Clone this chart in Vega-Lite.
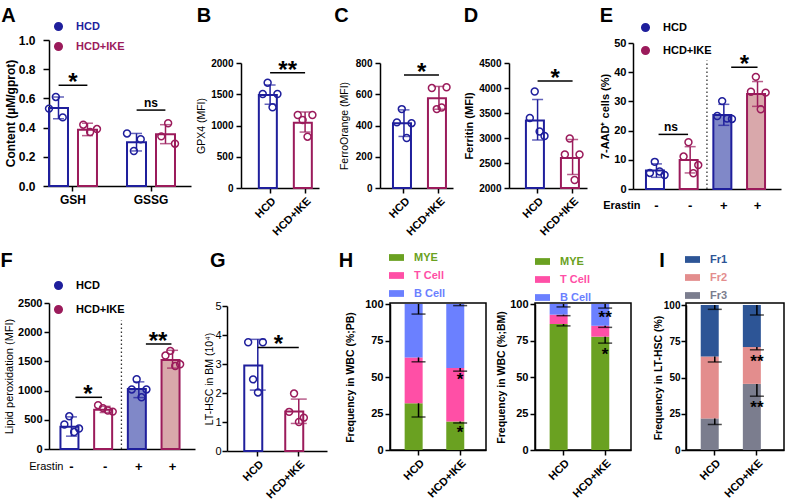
{
"$schema":"https://vega.github.io/schema/vega-lite/v6.json",
"padding":{"left":0,"top":6,"right":0,"bottom":0},
"background":"white",
"datasets":{
"A_bar":[{"met":"GSH","grp":"HCD","mean":0.535,"lo":0.46,"hi":0.61},{"met":"GSH","grp":"HCD+IKE","mean":0.385,"lo":0.345,"hi":0.43},{"met":"GSSG","grp":"HCD","mean":0.30,"lo":0.24,"hi":0.36},{"met":"GSSG","grp":"HCD+IKE","mean":0.355,"lo":0.29,"hi":0.42}],
"A_pts":[{"met":"GSH","slot":"HCD|1","grp":"HCD","v":0.53},{"met":"GSH","slot":"HCD|2","grp":"HCD","v":0.61},{"met":"GSH","slot":"HCD|3","grp":"HCD","v":0.47},{"met":"GSH","slot":"HCD+IKE|1","grp":"HCD+IKE","v":0.42},{"met":"GSH","slot":"HCD+IKE|2","grp":"HCD+IKE","v":0.37},{"met":"GSH","slot":"HCD+IKE|3","grp":"HCD+IKE","v":0.39},{"met":"GSSG","slot":"HCD|1","grp":"HCD","v":0.36},{"met":"GSSG","slot":"HCD|2","grp":"HCD","v":0.24},{"met":"GSSG","slot":"HCD|3","grp":"HCD","v":0.32},{"met":"GSSG","slot":"HCD+IKE|1","grp":"HCD+IKE","v":0.34},{"met":"GSSG","slot":"HCD+IKE|2","grp":"HCD+IKE","v":0.43},{"met":"GSSG","slot":"HCD+IKE|3","grp":"HCD+IKE","v":0.29}],
"A_sig":[{"met":"GSH","y":0.69,"lab":"*"},{"met":"GSSG","y":0.52,"lab":"ns"}],
"B_bar":[{"g":"HCD","mean":1488,"lo":1339,"hi":1648},{"g":"HCD+IKE","mean":1045,"lo":895,"hi":1216}],
"B_pts":[{"g":"HCD","rep":1,"v":1504},{"g":"HCD","rep":2,"v":1685},{"g":"HCD","rep":3,"v":1291},{"g":"HCD","rep":4,"v":1504},{"g":"HCD+IKE","rep":1,"v":1168},{"g":"HCD+IKE","rep":2,"v":1088},{"g":"HCD+IKE","rep":3,"v":821},{"g":"HCD+IKE","rep":4,"v":1168}],
"B_sig":[{"g":"HCD","g2":"HCD+IKE","y":1845,"lab":"**"}],
"C_bar":[{"g":"HCD","mean":414,"lo":330,"hi":500},{"g":"HCD+IKE","mean":574,"lo":504,"hi":650}],
"C_pts":[{"g":"HCD","rep":1,"v":420},{"g":"HCD","rep":2,"v":505},{"g":"HCD","rep":3,"v":320},{"g":"HCD","rep":4,"v":415},{"g":"HCD+IKE","rep":1,"v":640},{"g":"HCD+IKE","rep":2,"v":505},{"g":"HCD+IKE","rep":3,"v":515},{"g":"HCD+IKE","rep":4,"v":645}],
"C_sig":[{"g":"HCD","g2":"HCD+IKE","y":723,"lab":"*"}],
"D_bar":[{"g":"HCD","mean":3350,"lo":2960,"hi":3770},{"g":"HCD+IKE","mean":2600,"lo":2270,"hi":2970}],
"D_pts":[{"g":"HCD","rep":1,"v":3400},{"g":"HCD","rep":2,"v":3930},{"g":"HCD","rep":3,"v":3130},{"g":"HCD","rep":4,"v":3040},{"g":"HCD+IKE","rep":1,"v":2670},{"g":"HCD+IKE","rep":2,"v":2990},{"g":"HCD+IKE","rep":3,"v":2160},{"g":"HCD+IKE","rep":4,"v":2670}],
"D_sig":[{"g":"HCD","g2":"HCD+IKE","y":4140,"lab":"*"}],
"E_bar":[{"c":"HCD -","g":"HCD","e":"-","mean":6.3,"lo":4.0,"hi":8.6},{"c":"HCD+IKE -","g":"HCD+IKE","e":"-","mean":9.9,"lo":5.5,"hi":14.5},{"c":"HCD +","g":"HCD","e":"+","mean":25.3,"lo":21.8,"hi":29.0},{"c":"HCD+IKE +","g":"HCD+IKE","e":"+","mean":32.5,"lo":28.3,"hi":36.8}],
"E_pts":[{"c":"HCD -","g":"HCD","rep":1,"v":5.5},{"c":"HCD -","g":"HCD","rep":2,"v":9.3},{"c":"HCD -","g":"HCD","rep":3,"v":6.0},{"c":"HCD -","g":"HCD","rep":4,"v":4.8},{"c":"HCD+IKE -","g":"HCD+IKE","rep":1,"v":11.1},{"c":"HCD+IKE -","g":"HCD+IKE","rep":2,"v":16.0},{"c":"HCD+IKE -","g":"HCD+IKE","rep":3,"v":5.4},{"c":"HCD+IKE -","g":"HCD+IKE","rep":4,"v":8.2},{"c":"HCD +","g":"HCD","rep":1,"v":25.0},{"c":"HCD +","g":"HCD","rep":2,"v":30.1},{"c":"HCD +","g":"HCD","rep":3,"v":24.1},{"c":"HCD +","g":"HCD","rep":4,"v":24.0},{"c":"HCD+IKE +","g":"HCD+IKE","rep":1,"v":33.3},{"c":"HCD+IKE +","g":"HCD+IKE","rep":2,"v":38.4},{"c":"HCD+IKE +","g":"HCD+IKE","rep":3,"v":27.3},{"c":"HCD+IKE +","g":"HCD+IKE","rep":4,"v":33.0}],
"F_bar":[{"c":"HCD -","g":"HCD","e":"-","mean":380,"lo":220,"hi":550},{"c":"HCD+IKE -","g":"HCD+IKE","e":"-","mean":672,"lo":625,"hi":730},{"c":"HCD +","g":"HCD","e":"+","mean":1027,"lo":880,"hi":1150},{"c":"HCD+IKE +","g":"HCD+IKE","e":"+","mean":1525,"lo":1385,"hi":1690}],
"F_pts":[{"c":"HCD -","g":"HCD","rep":1,"v":420},{"c":"HCD -","g":"HCD","rep":2,"v":560},{"c":"HCD -","g":"HCD","rep":3,"v":290},{"c":"HCD -","g":"HCD","rep":4,"v":350},{"c":"HCD+IKE -","g":"HCD+IKE","rep":1,"v":750},{"c":"HCD+IKE -","g":"HCD+IKE","rep":2,"v":700},{"c":"HCD+IKE -","g":"HCD+IKE","rep":3,"v":660},{"c":"HCD+IKE -","g":"HCD+IKE","rep":4,"v":640},{"c":"HCD +","g":"HCD","rep":1,"v":1020},{"c":"HCD +","g":"HCD","rep":2,"v":1195},{"c":"HCD +","g":"HCD","rep":3,"v":885},{"c":"HCD +","g":"HCD","rep":4,"v":1020},{"c":"HCD+IKE +","g":"HCD+IKE","rep":1,"v":1600},{"c":"HCD+IKE +","g":"HCD+IKE","rep":2,"v":1680},{"c":"HCD+IKE +","g":"HCD+IKE","rep":3,"v":1420},{"c":"HCD+IKE +","g":"HCD+IKE","rep":4,"v":1450}],
"G_bar":[{"g":"HCD","mean":2.95,"lo":2.1,"hi":3.85},{"g":"HCD+IKE","mean":1.36,"lo":0.95,"hi":1.79}],
"G_pts":[{"g":"HCD","rep":1,"v":3.75},{"g":"HCD","rep":2,"v":2.47},{"g":"HCD","rep":3,"v":2.02},{"g":"HCD","rep":4,"v":3.75},{"g":"HCD+IKE","rep":1,"v":1.35},{"g":"HCD+IKE","rep":2,"v":1.98},{"g":"HCD+IKE","rep":3,"v":1.0},{"g":"HCD+IKE","rep":4,"v":1.15}],
"G_sig":[{"g":"HCD","g2":"HCD+IKE","y":3.57,"lab":"*"}],
"H1":[{"g":"HCD","cell":"MYE","ord":1,"val":32},{"g":"HCD","cell":"T Cell","ord":2,"val":31.4},{"g":"HCD","cell":"B Cell","ord":3,"val":36.6},{"g":"HCD+IKE","cell":"MYE","ord":1,"val":19.5},{"g":"HCD+IKE","cell":"T Cell","ord":2,"val":36.6},{"g":"HCD+IKE","cell":"B Cell","ord":3,"val":43.9}],
"H1_err":[{"g":"HCD","top":32,"cap":22.6},{"g":"HCD","top":63.4,"cap":60.4},{"g":"HCD","top":100,"cap":93.1},{"g":"HCD+IKE","top":19.5,"cap":18.5},{"g":"HCD+IKE","top":56.1,"cap":54.0},{"g":"HCD+IKE","top":100,"cap":98.9}],
"H1_star":[{"g":"HCD+IKE","y":50.8,"lab":"*"},{"g":"HCD+IKE","y":14.2,"lab":"*"}],
"H2":[{"g":"HCD","cell":"MYE","ord":1,"val":86.3},{"g":"HCD","cell":"T Cell","ord":2,"val":6.4},{"g":"HCD","cell":"B Cell","ord":3,"val":7.3},{"g":"HCD+IKE","cell":"MYE","ord":1,"val":77.6},{"g":"HCD+IKE","cell":"T Cell","ord":2,"val":7.5},{"g":"HCD+IKE","cell":"B Cell","ord":3,"val":14.9}],
"H2_err":[{"g":"HCD","top":86.3,"cap":85.0},{"g":"HCD","top":92.7,"cap":92.0},{"g":"HCD","top":100,"cap":98.0},{"g":"HCD+IKE","top":77.6,"cap":73.2},{"g":"HCD+IKE","top":85.1,"cap":84.0},{"g":"HCD+IKE","top":100,"cap":97.2}],
"H2_star":[{"g":"HCD+IKE","y":93.0,"lab":"**"},{"g":"HCD+IKE","y":67.5,"lab":"*"}],
"I1":[{"g":"HCD","fr":"Fr3","ord":1,"val":21.8},{"g":"HCD","fr":"Fr2","ord":2,"val":42.7},{"g":"HCD","fr":"Fr1","ord":3,"val":35.5},{"g":"HCD+IKE","fr":"Fr3","ord":1,"val":45.6},{"g":"HCD+IKE","fr":"Fr2","ord":2,"val":25.4},{"g":"HCD+IKE","fr":"Fr1","ord":3,"val":29.0}],
"I_err":[{"g":"HCD","top":21.8,"cap":17.6},{"g":"HCD","top":64.5,"cap":60.7},{"g":"HCD","top":100,"cap":97.0},{"g":"HCD+IKE","top":45.6,"cap":37.1},{"g":"HCD+IKE","top":71.0,"cap":69.1},{"g":"HCD+IKE","top":100,"cap":93.1}],
"I_star":[{"g":"HCD+IKE","y":63.6,"lab":"**"},{"g":"HCD+IKE","y":32.0,"lab":"**"}]
},
"vconcat":[
{"hconcat":[
 {"title":{"text":"A","offset":-5,"dx":-3},"width":142,"height":146,
  "layer":[
   {"data":{"name":"A_bar"},"mark":{"type":"bar","filled":false,"strokeWidth":2},
    "encoding":{
     "x":{"field":"met","type":"nominal","sort":["GSH","GSSG"],"scale":{"paddingInner":0.385,"paddingOuter":0.1026,"align":0},"axis":{"title":null,"labelAngle":0,"labelFontSize":12,"labelPadding":3,"tickSize":5}},
     "xOffset":{"field":"grp","type":"nominal","sort":["HCD","HCD+IKE"],"scale":{"paddingInner":0.345,"paddingOuter":0}},
     "y":{"field":"mean","type":"quantitative","scale":{"domain":[0,1],"nice":false},"axis":{"title":"Content (µM/gprot)","values":[0,0.2,0.4,0.6,0.8,1],"tickCount":20,"format":".1f","labelOverlap":false,"labelFontSize":12,"titleFontSize":12,"tickSize":6,"labelPadding":8,"titlePadding":1}},
     "color":{"field":"grp","type":"nominal","scale":{"domain":["HCD","HCD+IKE"],"range":["#1f1f9c","#9b1b5b"]},
      "legend":{"orient":"none","legendX":4,"legendY":-19,"title":null,"symbolType":"circle","symbolSize":50,"symbolStrokeWidth":2,"labelFontSize":11,"labelFontWeight":"bold","labelOffset":12,"rowPadding":3,"padding":0,"labelColor":{"expr":"datum.value === 'HCD' ? '#1f1f9c' : '#9b1b5b'"}}}}},
   {"data":{"name":"A_bar"},"mark":{"type":"rule","strokeWidth":1.5},
    "encoding":{"x":{"field":"met","type":"nominal","sort":["GSH","GSSG"]},"xOffset":{"field":"grp","type":"nominal","sort":["HCD","HCD+IKE"],"scale":{"paddingInner":0.345,"paddingOuter":0}},"y":{"field":"lo","type":"quantitative"},"y2":{"field":"hi"},"color":{"field":"grp","type":"nominal"}}},
   {"data":{"name":"A_bar"},"mark":{"type":"tick","size":11,"thickness":1.5},
    "encoding":{"x":{"field":"met","type":"nominal","sort":["GSH","GSSG"]},"xOffset":{"field":"grp","type":"nominal","sort":["HCD","HCD+IKE"],"scale":{"paddingInner":0.345,"paddingOuter":0}},"y":{"field":"lo","type":"quantitative"},"color":{"field":"grp","type":"nominal"}}},
   {"data":{"name":"A_bar"},"mark":{"type":"tick","size":11,"thickness":1.5},
    "encoding":{"x":{"field":"met","type":"nominal","sort":["GSH","GSSG"]},"xOffset":{"field":"grp","type":"nominal","sort":["HCD","HCD+IKE"],"scale":{"paddingInner":0.345,"paddingOuter":0}},"y":{"field":"hi","type":"quantitative"},"color":{"field":"grp","type":"nominal"}}},
   {"data":{"name":"A_pts"},"mark":{"type":"point","filled":false,"size":48,"strokeWidth":1.5,"opacity":1},
    "encoding":{"x":{"field":"met","type":"nominal","sort":["GSH","GSSG"]},"xOffset":{"field":"slot","type":"nominal","scale":{"domain":["HCD|1","HCD|2","HCD|3","d1","d2","HCD+IKE|1","HCD+IKE|2","HCD+IKE|3"],"paddingInner":0,"paddingOuter":0}},"y":{"field":"v","type":"quantitative"},"color":{"field":"grp","type":"nominal"}}},
   {"data":{"name":"A_sig"},"mark":{"type":"rule","strokeWidth":1.5,"color":"black"},
    "encoding":{"x":{"field":"met","type":"nominal","sort":["GSH","GSSG"],"bandPosition":0.2},"x2":{"field":"met","bandPosition":0.8},"y":{"field":"y","type":"quantitative"}}},
   {"data":{"name":"A_sig"},"transform":[{"filter":"datum.lab !== 'ns'"}],"mark":{"type":"text","fontSize":24,"fontWeight":"bold","baseline":"alphabetic","dy":5,"color":"black"},
    "encoding":{"x":{"field":"met","type":"nominal","sort":["GSH","GSSG"]},"y":{"field":"y","type":"quantitative"},"text":{"field":"lab"}}},
   {"data":{"name":"A_sig"},"transform":[{"filter":"datum.lab === 'ns'"}],"mark":{"type":"text","fontSize":12,"fontWeight":"bold","baseline":"alphabetic","dy":-3,"color":"black"},
    "encoding":{"x":{"field":"met","type":"nominal","sort":["GSH","GSSG"]},"y":{"field":"y","type":"quantitative"},"text":{"field":"lab"}}}
  ],
  "resolve":{"scale":{"xOffset":"independent"}}},
 {"hconcat":[
  {"title":{"text":"B","offset":14},"width":78,"height":148,
   "layer":[
    {"data":{"name":"B_bar"},"mark":{"type":"bar","filled":false,"strokeWidth":2},
     "encoding":{
      "x":{"field":"g","type":"nominal","sort":["HCD","HCD+IKE"],"scale":{"paddingInner":0.357,"paddingOuter":0.293,"align":0.87},"axis":{"title":null,"labelAngle":-45,"labelAlign":"right","labelBaseline":"top","labelFontSize":11,"labelPadding":2,"tickSize":5}},
      "y":{"field":"mean","type":"quantitative","scale":{"domain":[0,2000],"nice":false,"range":[148,23]},"axis":{"title":"GPX4 (MFI)","values":[0,500,1000,1500,2000],"tickCount":20,"format":"d","labelOverlap":false,"labelFontSize":10,"titleFontSize":10.5,"titleFontWeight":"normal","titlePadding":4,"labelPadding":3}},
      "color":{"field":"g","type":"nominal","scale":{"domain":["HCD","HCD+IKE"],"range":["#1f1f9c","#9b1b5b"]},"legend":null}}},
    {"data":{"name":"B_bar"},"mark":{"type":"rule","strokeWidth":1.5},"encoding":{"x":{"field":"g","type":"nominal"},"y":{"field":"lo","type":"quantitative"},"y2":{"field":"hi"},"color":{"field":"g","type":"nominal"}}},
    {"data":{"name":"B_bar"},"mark":{"type":"tick","size":11,"thickness":1.5},"encoding":{"x":{"field":"g","type":"nominal"},"y":{"field":"lo","type":"quantitative"},"color":{"field":"g","type":"nominal"}}},
    {"data":{"name":"B_bar"},"mark":{"type":"tick","size":11,"thickness":1.5},"encoding":{"x":{"field":"g","type":"nominal"},"y":{"field":"hi","type":"quantitative"},"color":{"field":"g","type":"nominal"}}},
    {"data":{"name":"B_pts"},"mark":{"type":"point","filled":false,"size":48,"strokeWidth":1.5,"opacity":1},"encoding":{"x":{"field":"g","type":"nominal"},"xOffset":{"field":"rep","type":"nominal","scale":{"paddingInner":0,"paddingOuter":0.8}},"y":{"field":"v","type":"quantitative"},"color":{"field":"g","type":"nominal"}}},
    {"data":{"name":"B_sig"},"mark":{"type":"rule","strokeWidth":1.5,"color":"black"},"encoding":{"x":{"field":"g","type":"nominal"},"x2":{"field":"g2"},"y":{"field":"y","type":"quantitative"}}},
    {"data":{"name":"B_sig"},"mark":{"type":"text","fontSize":24,"fontWeight":"bold","baseline":"alphabetic","dy":5,"color":"black"},"encoding":{"x":{"field":"g","type":"nominal","bandPosition":1.28},"y":{"field":"y","type":"quantitative"},"text":{"field":"lab"}}}
   ]},
  {"hconcat":[
   {"title":{"text":"C","offset":14,"dx":-5},"width":73,"height":148,
    "layer":[
     {"data":{"name":"C_bar"},"mark":{"type":"bar","filled":false,"strokeWidth":2},
      "encoding":{
       "x":{"field":"g","type":"nominal","sort":["HCD","HCD+IKE"],"scale":{"paddingInner":0.371,"paddingOuter":0.229,"align":0.81},"axis":{"title":null,"labelAngle":-45,"labelAlign":"right","labelBaseline":"top","labelFontSize":11,"labelPadding":2,"tickSize":5}},
       "y":{"field":"mean","type":"quantitative","scale":{"domain":[0,800],"nice":false,"range":[148,23]},"axis":{"title":"FerroOrange (MFI)","values":[0,200,400,600,800],"tickCount":20,"format":"d","labelOverlap":false,"labelFontSize":10,"titleFontSize":10.5,"titleFontWeight":"normal","titlePadding":6,"labelPadding":3}},
       "color":{"field":"g","type":"nominal","scale":{"domain":["HCD","HCD+IKE"],"range":["#1f1f9c","#9b1b5b"]},"legend":null}}},
     {"data":{"name":"C_bar"},"mark":{"type":"rule","strokeWidth":1.5},"encoding":{"x":{"field":"g","type":"nominal"},"y":{"field":"lo","type":"quantitative"},"y2":{"field":"hi"},"color":{"field":"g","type":"nominal"}}},
     {"data":{"name":"C_bar"},"mark":{"type":"tick","size":11,"thickness":1.5},"encoding":{"x":{"field":"g","type":"nominal"},"y":{"field":"lo","type":"quantitative"},"color":{"field":"g","type":"nominal"}}},
     {"data":{"name":"C_bar"},"mark":{"type":"tick","size":11,"thickness":1.5},"encoding":{"x":{"field":"g","type":"nominal"},"y":{"field":"hi","type":"quantitative"},"color":{"field":"g","type":"nominal"}}},
     {"data":{"name":"C_pts"},"mark":{"type":"point","filled":false,"size":48,"strokeWidth":1.5,"opacity":1},"encoding":{"x":{"field":"g","type":"nominal"},"xOffset":{"field":"rep","type":"nominal","scale":{"paddingInner":0,"paddingOuter":0.8}},"y":{"field":"v","type":"quantitative"},"color":{"field":"g","type":"nominal"}}},
     {"data":{"name":"C_sig"},"mark":{"type":"rule","strokeWidth":1.5,"color":"black"},"encoding":{"x":{"field":"g","type":"nominal"},"x2":{"field":"g2"},"y":{"field":"y","type":"quantitative"}}},
     {"data":{"name":"C_sig"},"mark":{"type":"text","fontSize":24,"fontWeight":"bold","baseline":"alphabetic","dy":5,"color":"black"},"encoding":{"x":{"field":"g","type":"nominal","bandPosition":1.3},"y":{"field":"y","type":"quantitative"},"text":{"field":"lab"}}}
    ]},
   {"hconcat":[
    {"title":{"text":"D","offset":14},"width":78,"height":148,
     "layer":[
      {"data":{"name":"D_bar"},"mark":{"type":"bar","filled":false,"strokeWidth":2},
       "encoding":{
        "x":{"field":"g","type":"nominal","sort":["HCD","HCD+IKE"],"scale":{"paddingInner":0.334,"paddingOuter":0.281,"align":0.86},"axis":{"title":null,"labelAngle":-45,"labelAlign":"right","labelBaseline":"top","labelFontSize":11,"labelPadding":2,"tickSize":5}},
        "y":{"field":"mean","type":"quantitative","scale":{"domain":[2000,4500],"nice":false,"zero":false,"range":[148,23]},"axis":{"title":"Ferritin (MFI)","values":[2000,2500,3000,3500,4000,4500],"tickCount":20,"format":"d","labelOverlap":false,"labelFontSize":10,"titleFontSize":11,"titlePadding":4,"labelPadding":3}},
        "y2":{"datum":2000},
        "color":{"field":"g","type":"nominal","scale":{"domain":["HCD","HCD+IKE"],"range":["#1f1f9c","#9b1b5b"]},"legend":null}}},
      {"data":{"name":"D_bar"},"mark":{"type":"rule","strokeWidth":1.5},"encoding":{"x":{"field":"g","type":"nominal"},"y":{"field":"lo","type":"quantitative"},"y2":{"field":"hi"},"color":{"field":"g","type":"nominal"}}},
      {"data":{"name":"D_bar"},"mark":{"type":"tick","size":11,"thickness":1.5},"encoding":{"x":{"field":"g","type":"nominal"},"y":{"field":"lo","type":"quantitative"},"color":{"field":"g","type":"nominal"}}},
      {"data":{"name":"D_bar"},"mark":{"type":"tick","size":11,"thickness":1.5},"encoding":{"x":{"field":"g","type":"nominal"},"y":{"field":"hi","type":"quantitative"},"color":{"field":"g","type":"nominal"}}},
      {"data":{"name":"D_pts"},"mark":{"type":"point","filled":false,"size":48,"strokeWidth":1.5,"opacity":1},"encoding":{"x":{"field":"g","type":"nominal"},"xOffset":{"field":"rep","type":"nominal","scale":{"paddingInner":0,"paddingOuter":0.8}},"y":{"field":"v","type":"quantitative"},"color":{"field":"g","type":"nominal"}}},
      {"data":{"name":"D_sig"},"mark":{"type":"rule","strokeWidth":1.5,"color":"black"},"encoding":{"x":{"field":"g","type":"nominal"},"x2":{"field":"g2"},"y":{"field":"y","type":"quantitative"}}},
      {"data":{"name":"D_sig"},"mark":{"type":"text","fontSize":24,"fontWeight":"bold","baseline":"alphabetic","dy":5,"color":"black"},"encoding":{"x":{"field":"g","type":"nominal","bandPosition":1.25},"y":{"field":"y","type":"quantitative"},"text":{"field":"lab"}}}
     ]},
    {"title":{"text":"E","offset":-4},"width":148,"height":149,
     "layer":[
      {"data":{"name":"E_bar"},"transform":[{"filter":"datum.e === '+'"}],"mark":{"type":"bar"},
       "encoding":{
        "x":{"field":"c","type":"nominal","sort":["HCD -","HCD+IKE -","HCD +","HCD+IKE +"],"scale":{"domain":["HCD -","HCD+IKE -","HCD +","HCD+IKE +"],"paddingInner":0.377,"paddingOuter":0.385},"axis":{"title":"Erastin","titleAngle":0,"titleAlign":"right","titleBaseline":"middle","titleX":7,"titleY":16,"titleFontSize":11,"labelExpr":"slice(datum.label, -1)","labelAngle":0,"labelFontSize":13,"labelBaseline":"middle","labelPadding":16,"ticks":false,"tickSize":0}},
        "y":{"field":"mean","type":"quantitative","scale":{"domain":[0,50],"nice":false,"range":[149,3]},"axis":{"title":"7-AAD⁺ cells (%)","values":[0,10,20,30,40,50],"tickCount":20,"labelOverlap":false,"labelFontSize":11,"titleFontSize":11,"titlePadding":3,"labelPadding":2}},
        "fill":{"field":"c","type":"nominal","scale":{"domain":["HCD +","HCD+IKE +"],"range":["#8088c8","#d9a8ab"]},"legend":null}}},
      {"data":{"name":"E_bar"},"mark":{"type":"bar","filled":false,"strokeWidth":2},
       "encoding":{"x":{"field":"c","type":"nominal","sort":["HCD -","HCD+IKE -","HCD +","HCD+IKE +"]},"y":{"field":"mean","type":"quantitative"},
        "color":{"field":"g","type":"nominal","scale":{"domain":["HCD","HCD+IKE"],"range":["#1f1f9c","#9b1b5b"]},
         "legend":{"orient":"none","legendX":7,"legendY":-18,"title":null,"symbolType":"circle","symbolSize":50,"symbolStrokeWidth":2,"labelFontSize":11,"labelFontWeight":"bold","labelOffset":12,"rowPadding":6,"padding":0,"labelColor":"black"}}}},
      {"data":{"name":"E_bar"},"mark":{"type":"rule","strokeWidth":1.5},"encoding":{"x":{"field":"c","type":"nominal","sort":["HCD -","HCD+IKE -","HCD +","HCD+IKE +"]},"y":{"field":"lo","type":"quantitative"},"y2":{"field":"hi"},"color":{"field":"g","type":"nominal"}}},
      {"data":{"name":"E_bar"},"mark":{"type":"tick","size":11,"thickness":1.5},"encoding":{"x":{"field":"c","type":"nominal","sort":["HCD -","HCD+IKE -","HCD +","HCD+IKE +"]},"y":{"field":"lo","type":"quantitative"},"color":{"field":"g","type":"nominal"}}},
      {"data":{"name":"E_bar"},"mark":{"type":"tick","size":11,"thickness":1.5},"encoding":{"x":{"field":"c","type":"nominal","sort":["HCD -","HCD+IKE -","HCD +","HCD+IKE +"]},"y":{"field":"hi","type":"quantitative"},"color":{"field":"g","type":"nominal"}}},
      {"data":{"name":"E_pts"},"mark":{"type":"point","filled":false,"size":48,"strokeWidth":1.5,"opacity":1},"encoding":{"x":{"field":"c","type":"nominal","sort":["HCD -","HCD+IKE -","HCD +","HCD+IKE +"]},"xOffset":{"field":"rep","type":"nominal","scale":{"paddingInner":0,"paddingOuter":0.8}},"y":{"field":"v","type":"quantitative"},"color":{"field":"g","type":"nominal"}}},
      {"data":{"values":[{"c":"HCD+IKE -","y":0,"y2":44}]},"mark":{"type":"rule","strokeWidth":1.3,"strokeDash":[1.5,2.5],"color":"#333333"},"encoding":{"x":{"field":"c","type":"nominal","sort":["HCD -","HCD+IKE -","HCD +","HCD+IKE +"],"bandPosition":1.3},"y":{"field":"y","type":"quantitative"},"y2":{"field":"y2"}}},
      {"data":{"values":[{"c":"HCD -","c2":"HCD+IKE -","y":18.7}]},"mark":{"type":"rule","strokeWidth":1.5,"color":"black"},"encoding":{"x":{"field":"c","type":"nominal","sort":["HCD -","HCD+IKE -","HCD +","HCD+IKE +"],"bandPosition":0.6},"x2":{"field":"c2","bandPosition":0.4},"y":{"field":"y","type":"quantitative"}}},
      {"data":{"values":[{"c":"HCD -","y":18.7,"lab":"ns"}]},"mark":{"type":"text","fontSize":12,"fontWeight":"bold","baseline":"alphabetic","dy":-3,"color":"black"},"encoding":{"x":{"field":"c","type":"nominal","sort":["HCD -","HCD+IKE -","HCD +","HCD+IKE +"],"bandPosition":1.19},"y":{"field":"y","type":"quantitative"},"text":{"field":"lab"}}},
      {"data":{"values":[{"c":"HCD +","c2":"HCD+IKE +","y":41.7}]},"mark":{"type":"rule","strokeWidth":1.5,"color":"black"},"encoding":{"x":{"field":"c","type":"nominal","sort":["HCD -","HCD+IKE -","HCD +","HCD+IKE +"],"bandPosition":0.85},"x2":{"field":"c2","bandPosition":0.5},"y":{"field":"y","type":"quantitative"}}},
      {"data":{"values":[{"c":"HCD +","y":41.7,"lab":"*"}]},"mark":{"type":"text","fontSize":24,"fontWeight":"bold","baseline":"alphabetic","dy":5,"color":"black"},"encoding":{"x":{"field":"c","type":"nominal","sort":["HCD -","HCD+IKE -","HCD +","HCD+IKE +"],"bandPosition":1.48},"y":{"field":"y","type":"quantitative"},"text":{"field":"lab"}}}
     ]}
   ],"spacing":12,"resolve":{"scale":{"color":"independent","fill":"independent"},"legend":{"color":"independent"}}}
  ],"spacing":9,"resolve":{"scale":{"color":"independent","fill":"independent"},"legend":{"color":"independent"}}}
 ],"spacing":15,"resolve":{"scale":{"color":"independent","fill":"independent"},"legend":{"color":"independent"}}}
],"spacing":5,"resolve":{"scale":{"color":"independent","fill":"independent"},"legend":{"color":"independent"}}},
{"hconcat":[
 {"title":{"text":"F","offset":9,"dx":-3},"width":146,"height":146,
  "layer":[
   {"data":{"name":"F_bar"},"transform":[{"filter":"datum.e === '+'"}],"mark":{"type":"bar"},
    "encoding":{
     "x":{"field":"c","type":"nominal","sort":["HCD -","HCD+IKE -","HCD +","HCD+IKE +"],"scale":{"domain":["HCD -","HCD+IKE -","HCD +","HCD+IKE +"],"paddingInner":0.347,"paddingOuter":0.34},"axis":{"title":"Erastin","titleAngle":0,"titleAlign":"right","titleBaseline":"middle","titleX":14,"titleY":17,"titleFontSize":11,"titleFontWeight":"normal","labelExpr":"slice(datum.label, -1)","labelAngle":0,"labelFontSize":13,"labelBaseline":"middle","labelPadding":17,"ticks":false,"tickSize":0}},
     "y":{"field":"mean","type":"quantitative","scale":{"domain":[0,2500],"nice":false},"axis":{"title":"Lipid peroxidation (MFI)","values":[0,500,1000,1500,2000,2500],"tickCount":20,"format":"d","labelOverlap":false,"labelFontSize":11,"titleFontSize":11,"titleFontWeight":"normal","titlePadding":3,"labelPadding":2}},
     "fill":{"field":"c","type":"nominal","scale":{"domain":["HCD +","HCD+IKE +"],"range":["#8088c8","#d9a8ab"]},"legend":null}}},
   {"data":{"name":"F_bar"},"mark":{"type":"bar","filled":false,"strokeWidth":2},
    "encoding":{"x":{"field":"c","type":"nominal","sort":["HCD -","HCD+IKE -","HCD +","HCD+IKE +"]},"y":{"field":"mean","type":"quantitative"},
     "color":{"field":"g","type":"nominal","scale":{"domain":["HCD","HCD+IKE"],"range":["#1f1f9c","#9b1b5b"]},
      "legend":{"orient":"none","legendX":4,"legendY":-23,"title":null,"symbolType":"circle","symbolSize":50,"symbolStrokeWidth":2,"labelFontSize":11,"labelFontWeight":"bold","labelOffset":12,"rowPadding":7,"padding":0,"labelColor":"black"}}}},
   {"data":{"name":"F_bar"},"mark":{"type":"rule","strokeWidth":1.5},"encoding":{"x":{"field":"c","type":"nominal","sort":["HCD -","HCD+IKE -","HCD +","HCD+IKE +"]},"y":{"field":"lo","type":"quantitative"},"y2":{"field":"hi"},"color":{"field":"g","type":"nominal"}}},
   {"data":{"name":"F_bar"},"mark":{"type":"tick","size":11,"thickness":1.5},"encoding":{"x":{"field":"c","type":"nominal","sort":["HCD -","HCD+IKE -","HCD +","HCD+IKE +"]},"y":{"field":"lo","type":"quantitative"},"color":{"field":"g","type":"nominal"}}},
   {"data":{"name":"F_bar"},"mark":{"type":"tick","size":11,"thickness":1.5},"encoding":{"x":{"field":"c","type":"nominal","sort":["HCD -","HCD+IKE -","HCD +","HCD+IKE +"]},"y":{"field":"hi","type":"quantitative"},"color":{"field":"g","type":"nominal"}}},
   {"data":{"name":"F_pts"},"mark":{"type":"point","filled":false,"size":48,"strokeWidth":1.5,"opacity":1},"encoding":{"x":{"field":"c","type":"nominal","sort":["HCD -","HCD+IKE -","HCD +","HCD+IKE +"]},"xOffset":{"field":"rep","type":"nominal","scale":{"paddingInner":0,"paddingOuter":0.8}},"y":{"field":"v","type":"quantitative"},"color":{"field":"g","type":"nominal"}}},
   {"data":{"values":[{"c":"HCD+IKE -","y":0,"y2":2200}]},"mark":{"type":"rule","strokeWidth":1.3,"strokeDash":[1.5,2.5],"color":"#333333"},"encoding":{"x":{"field":"c","type":"nominal","sort":["HCD -","HCD+IKE -","HCD +","HCD+IKE +"],"bandPosition":1.24},"y":{"field":"y","type":"quantitative"},"y2":{"field":"y2"}}},
   {"data":{"values":[{"c":"HCD -","c2":"HCD+IKE -","y":885}]},"mark":{"type":"rule","strokeWidth":1.5,"color":"black"},"encoding":{"x":{"field":"c","type":"nominal","sort":["HCD -","HCD+IKE -","HCD +","HCD+IKE +"],"bandPosition":0.68},"x2":{"field":"c2","bandPosition":0.36},"y":{"field":"y","type":"quantitative"}}},
   {"data":{"values":[{"c":"HCD -","y":885,"lab":"*"}]},"mark":{"type":"text","fontSize":24,"fontWeight":"bold","baseline":"alphabetic","dy":5,"color":"black"},"encoding":{"x":{"field":"c","type":"nominal","sort":["HCD -","HCD+IKE -","HCD +","HCD+IKE +"],"bandPosition":1.25},"y":{"field":"y","type":"quantitative"},"text":{"field":"lab"}}},
   {"data":{"values":[{"c":"HCD +","c2":"HCD+IKE +","y":1798}]},"mark":{"type":"rule","strokeWidth":1.5,"color":"black"},"encoding":{"x":{"field":"c","type":"nominal","sort":["HCD -","HCD+IKE -","HCD +","HCD+IKE +"],"bandPosition":0.82},"x2":{"field":"c2","bandPosition":0.45},"y":{"field":"y","type":"quantitative"}}},
   {"data":{"values":[{"c":"HCD +","y":1798,"lab":"**"}]},"mark":{"type":"text","fontSize":24,"fontWeight":"bold","baseline":"alphabetic","dy":5,"color":"black"},"encoding":{"x":{"field":"c","type":"nominal","sort":["HCD -","HCD+IKE -","HCD +","HCD+IKE +"],"bandPosition":1.37},"y":{"field":"y","type":"quantitative"},"text":{"field":"lab"}}}
  ]},
 {"hconcat":[
  {"title":{"text":"G","offset":29,"dx":5},"width":100,"height":148,
   "layer":[
    {"data":{"name":"G_bar"},"mark":{"type":"bar","filled":false,"strokeWidth":2},
     "encoding":{
      "x":{"field":"g","type":"nominal","sort":["HCD","HCD+IKE"],"scale":{"paddingInner":0.34,"paddingOuter":0.39,"align":0.54},"axis":{"title":null,"labelAngle":-45,"labelAlign":"right","labelBaseline":"top","labelFontSize":11,"labelPadding":2,"tickSize":5}},
      "y":{"field":"mean","type":"quantitative","scale":{"domain":[0,5],"nice":false,"range":[148,3]},"axis":{"title":"LT-HSC in BM (10⁴)","values":[0,1,2,3,4,5],"tickCount":20,"format":"d","labelOverlap":false,"labelFontSize":11,"labelFontWeight":"normal","titleFontSize":10.5,"titleFontWeight":"normal","titlePadding":0,"labelPadding":1}},
      "color":{"field":"g","type":"nominal","scale":{"domain":["HCD","HCD+IKE"],"range":["#1f1f9c","#9b1b5b"]},"legend":null}}},
    {"data":{"name":"G_bar"},"mark":{"type":"rule","strokeWidth":1.5},"encoding":{"x":{"field":"g","type":"nominal"},"y":{"field":"lo","type":"quantitative"},"y2":{"field":"hi"},"color":{"field":"g","type":"nominal"}}},
    {"data":{"name":"G_bar"},"mark":{"type":"tick","size":16,"thickness":1.5},"encoding":{"x":{"field":"g","type":"nominal"},"y":{"field":"lo","type":"quantitative"},"color":{"field":"g","type":"nominal"}}},
    {"data":{"name":"G_bar"},"mark":{"type":"tick","size":16,"thickness":1.5},"encoding":{"x":{"field":"g","type":"nominal"},"y":{"field":"hi","type":"quantitative"},"color":{"field":"g","type":"nominal"}}},
    {"data":{"name":"G_pts"},"mark":{"type":"point","filled":false,"size":48,"strokeWidth":1.5,"opacity":1},"encoding":{"x":{"field":"g","type":"nominal"},"xOffset":{"field":"rep","type":"nominal","scale":{"paddingInner":0,"paddingOuter":0.8}},"y":{"field":"v","type":"quantitative"},"color":{"field":"g","type":"nominal"}}},
    {"data":{"name":"G_sig"},"mark":{"type":"rule","strokeWidth":1.5,"color":"black"},"encoding":{"x":{"field":"g","type":"nominal"},"x2":{"field":"g2"},"y":{"field":"y","type":"quantitative"}}},
    {"data":{"name":"G_sig"},"mark":{"type":"text","fontSize":24,"fontWeight":"bold","baseline":"alphabetic","dy":5,"color":"black"},"encoding":{"x":{"field":"g","type":"nominal","bandPosition":1.26},"y":{"field":"y","type":"quantitative"},"text":{"field":"lab"}}}
   ]},
  {"hconcat":[
   {"title":{"text":"H","offset":-21,"dx":-7},"width":96,"height":147,"view":{"stroke":"black","strokeWidth":1.5},
    "layer":[
     {"data":{"name":"H1"},"mark":{"type":"bar"},
      "encoding":{
       "x":{"field":"g","type":"nominal","sort":["HCD","HCD+IKE"],"scale":{"paddingInner":0.333,"paddingOuter":0.32,"align":0.55},"axis":{"title":null,"labelAngle":-45,"labelAlign":"right","labelBaseline":"top","labelFontSize":11,"labelPadding":2,"tickSize":5}},
       "y":{"field":"val","type":"quantitative","stack":"zero","scale":{"domain":[0,100],"nice":false,"range":[147,1]},"axis":{"title":"Frequency in WBC (%;PB)","values":[0,25,50,75,100],"tickCount":20,"labelOverlap":false,"labelFontSize":11,"titleFontSize":10.5,"titlePadding":9,"labelPadding":2}},
       "color":{"field":"cell","type":"nominal","scale":{"domain":["MYE","T Cell","B Cell"],"range":["#6aa121","#ff4fa6","#6b80ff"]},
        "legend":{"orient":"none","legendX":-1,"legendY":-53,"title":null,"symbolType":"M-1,-0.45H1V0.45H-1Z","symbolSize":225,"symbolStrokeWidth":0,"labelFontSize":11,"labelFontWeight":"bold","labelOffset":10,"rowPadding":5,"padding":0,"labelColor":{"expr":"datum.value === 'MYE' ? '#6aa121' : datum.value === 'T Cell' ? '#ff4fa6' : '#6b80ff'"}}},
       "order":{"field":"ord","type":"quantitative"}}},
     {"data":{"name":"H1_err"},"mark":{"type":"rule","strokeWidth":1.5,"color":"black"},"encoding":{"x":{"field":"g","type":"nominal"},"y":{"field":"top","type":"quantitative"},"y2":{"field":"cap"}}},
     {"data":{"name":"H1_err"},"mark":{"type":"tick","size":14,"thickness":1.5,"color":"black"},"encoding":{"x":{"field":"g","type":"nominal"},"y":{"field":"cap","type":"quantitative"}}},
     {"data":{"name":"H1_star"},"mark":{"type":"text","fontSize":17,"fontWeight":"bold","baseline":"middle","dy":4,"color":"black"},"encoding":{"x":{"field":"g","type":"nominal"},"y":{"field":"y","type":"quantitative"},"text":{"field":"lab"}}}
    ]},
   {"hconcat":[
    {"width":96,"height":147,"view":{"stroke":"black","strokeWidth":1.5},
     "layer":[
      {"data":{"name":"H2"},"mark":{"type":"bar"},
       "encoding":{
        "x":{"field":"g","type":"nominal","sort":["HCD","HCD+IKE"],"scale":{"paddingInner":0.333,"paddingOuter":0.32,"align":0.55},"axis":{"title":null,"labelAngle":-45,"labelAlign":"right","labelBaseline":"top","labelFontSize":11,"labelPadding":2,"tickSize":5}},
        "y":{"field":"val","type":"quantitative","stack":"zero","scale":{"domain":[0,100],"nice":false,"range":[147,1]},"axis":{"title":"Frequency in WBC (%;BM)","values":[0,25,50,75,100],"tickCount":20,"labelOverlap":false,"labelFontSize":11,"titleFontSize":10.5,"titlePadding":3,"labelPadding":2}},
        "color":{"field":"cell","type":"nominal","scale":{"domain":["MYE","T Cell","B Cell"],"range":["#6aa121","#ff4fa6","#6b80ff"]},
         "legend":{"orient":"none","legendX":0,"legendY":-49,"title":null,"symbolType":"M-1,-0.45H1V0.45H-1Z","symbolSize":225,"symbolStrokeWidth":0,"labelFontSize":11,"labelFontWeight":"bold","labelOffset":10,"rowPadding":5,"padding":0,"labelColor":{"expr":"datum.value === 'MYE' ? '#6aa121' : datum.value === 'T Cell' ? '#ff4fa6' : '#6b80ff'"}}},
        "order":{"field":"ord","type":"quantitative"}}},
      {"data":{"name":"H2_err"},"mark":{"type":"rule","strokeWidth":1.5,"color":"black"},"encoding":{"x":{"field":"g","type":"nominal"},"y":{"field":"top","type":"quantitative"},"y2":{"field":"cap"}}},
      {"data":{"name":"H2_err"},"mark":{"type":"tick","size":14,"thickness":1.5,"color":"black"},"encoding":{"x":{"field":"g","type":"nominal"},"y":{"field":"cap","type":"quantitative"}}},
      {"data":{"name":"H2_star"},"mark":{"type":"text","fontSize":17,"fontWeight":"bold","baseline":"middle","dy":4,"color":"black"},"encoding":{"x":{"field":"g","type":"nominal"},"y":{"field":"y","type":"quantitative"},"text":{"field":"lab"}}}
     ]},
    {"title":{"text":"I","offset":-19,"dx":6},"width":98,"height":147,"view":{"stroke":"black","strokeWidth":1.5},
     "layer":[
      {"data":{"name":"I1"},"mark":{"type":"bar"},
       "encoding":{
        "x":{"field":"g","type":"nominal","sort":["HCD","HCD+IKE"],"scale":{"paddingInner":0.333,"paddingOuter":0.33,"align":0.53},"axis":{"title":null,"labelAngle":-45,"labelAlign":"right","labelBaseline":"top","labelFontSize":11,"labelPadding":2,"tickSize":5}},
        "y":{"field":"val","type":"quantitative","stack":"zero","scale":{"domain":[0,100],"nice":false,"range":[147,2]},"axis":{"title":"Frequency in LT-HSC (%)","values":[0,25,50,75,100],"tickCount":20,"labelOverlap":false,"labelFontSize":10,"titleFontSize":10.5,"titlePadding":0,"labelPadding":1}},
        "color":{"field":"fr","type":"nominal","scale":{"domain":["Fr1","Fr2","Fr3"],"range":["#2d5596","#e38d8d","#7b7d8e"]},
         "legend":{"orient":"none","legendX":-1,"legendY":-51,"title":null,"symbolType":"M-1,-0.45H1V0.45H-1Z","symbolSize":225,"symbolStrokeWidth":0,"labelFontSize":11,"labelFontWeight":"bold","labelOffset":10,"rowPadding":5,"padding":0,"labelColor":{"expr":"datum.value === 'Fr1' ? '#2d5596' : datum.value === 'Fr2' ? '#e38d8d' : '#7b7d8e'"}}},
        "order":{"field":"ord","type":"quantitative"}}},
      {"data":{"name":"I_err"},"mark":{"type":"rule","strokeWidth":1.5,"color":"black"},"encoding":{"x":{"field":"g","type":"nominal"},"y":{"field":"top","type":"quantitative"},"y2":{"field":"cap"}}},
      {"data":{"name":"I_err"},"mark":{"type":"tick","size":14,"thickness":1.5,"color":"black"},"encoding":{"x":{"field":"g","type":"nominal"},"y":{"field":"cap","type":"quantitative"}}},
      {"data":{"name":"I_star"},"mark":{"type":"text","fontSize":17,"fontWeight":"bold","baseline":"middle","dy":4,"color":"black"},"encoding":{"x":{"field":"g","type":"nominal"},"y":{"field":"y","type":"quantitative"},"text":{"field":"lab"}}}
     ]}
   ],"spacing":20,"resolve":{"scale":{"color":"independent","fill":"independent"},"legend":{"color":"independent"}}}
  ],"spacing":8,"resolve":{"scale":{"color":"independent","fill":"independent"},"legend":{"color":"independent"}}}
 ],"spacing":10,"resolve":{"scale":{"color":"independent","fill":"independent"},"legend":{"color":"independent"}}}
],"spacing":9,"resolve":{"scale":{"color":"independent","fill":"independent"},"legend":{"color":"independent"}}}
],
"spacing":11,
"resolve":{"scale":{"color":"independent","fill":"independent"},"legend":{"color":"independent"}},
"config":{
 "font":"Liberation Sans",
 "view":{"stroke":null},
 "axis":{"domainColor":"black","domainWidth":1.5,"tickColor":"black","tickWidth":1.5,"tickSize":5,"labelColor":"black","labelFont":"Liberation Sans","labelFontWeight":"bold","titleFont":"Liberation Sans","titleColor":"black","titleFontWeight":"bold","grid":false,"labelOverlap":false},
 "title":{"anchor":"start","frame":"bounds","font":"Liberation Sans","fontSize":20,"fontWeight":"bold","color":"black"},
 "legend":{"labelFont":"Liberation Sans"},
 "text":{"font":"Liberation Sans"}
}
}
